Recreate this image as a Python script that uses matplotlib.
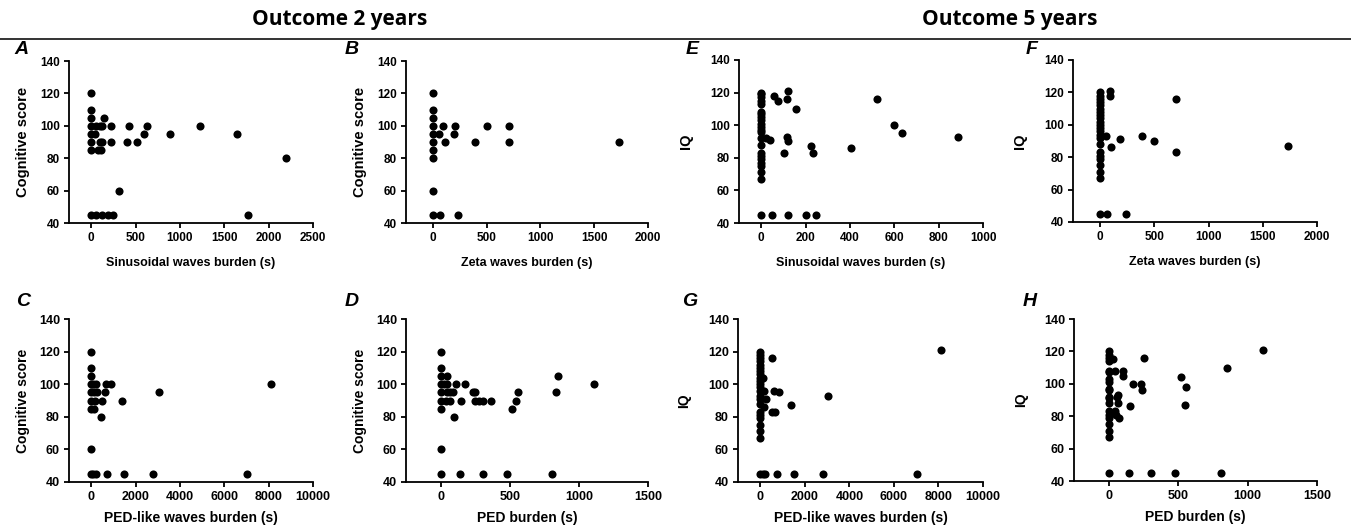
import matplotlib

matplotlib.use("Agg")

import matplotlib.pyplot as plt
from matplotlib.lines import Line2D

FIG_W, FIG_H = 1351, 528

# --- Outcome 2 years: cognitive score ---
a_sin_burden = [0, 0, 0, 0, 50, 95, 125, 226, 426, 630, 1225, 0, 40, 596, 886, 1644,
                0, 100, 120, 226, 400, 517, 150, 0, 75, 113, 2198, 309,
                0, 50, 120, 190, 245, 1768]
a_cog_score = [120, 110, 105, 100, 100, 100, 100, 100, 100, 100, 100, 95, 95, 95, 95, 95,
               90, 90, 90, 90, 90, 90, 105, 85, 85, 85, 80, 60,
               45, 45, 45, 45, 45, 45]

b_zeta_burden = [0, 0, 0, 0, 96, 210, 500, 708, 0, 56, 192, 0, 111, 390, 708, 1731,
                 0, 0, 0, 0, 62, 238]
b_cog_score = [120, 110, 105, 100, 100, 100, 100, 100, 95, 95, 95, 90, 90, 90, 90, 90,
               85, 80, 60, 45, 45, 45]

c_pedlike_burden = [0, 0, 0, 0, 100, 200, 650, 875, 8115, 0, 120, 240, 620, 3047,
                    0, 180, 500, 1372, 0, 120, 437, 0,
                    0, 90, 200, 709, 1493, 2805, 7029]
c_cog_score = [120, 110, 105, 100, 100, 100, 100, 100, 100, 95, 95, 95, 95, 95,
               90, 90, 90, 90, 85, 85, 80, 60,
               45, 45, 45, 45, 45, 45, 45]

d_ped_burden = [0, 0, 0, 43, 0, 24, 46, 108, 178, 1108,
                0, 43, 65, 87, 236, 248, 561, 835,
                0, 41, 65, 149, 248, 277, 308, 366, 544,
                0, 515, 852, 99, 0,
                0, 142, 306, 477, 808]
d_cog_score = [120, 110, 105, 105, 100, 100, 100, 100, 100, 100,
               95, 95, 95, 95, 95, 95, 95, 95,
               90, 90, 90, 90, 90, 90, 90, 90, 90,
               85, 85, 105, 80, 60,
               45, 45, 45, 45, 45]

# --- Outcome 5 years: IQ ---
e_sin_burden = [0, 0, 0, 0, 0, 0, 0, 0, 0, 0, 0, 0, 0, 0, 0, 0, 0, 0, 0, 0, 0, 0, 0,
                57, 78, 115, 121, 156, 22, 39, 115, 121, 103, 225, 234, 405,
                520, 598, 633, 889, 50, 120, 202, 246]
e_iq = [120, 119, 117, 115, 113, 108, 107, 105, 103, 101, 99, 97, 96, 92, 88, 83,
        81, 79, 77, 75, 71, 67, 45,
        118, 115, 116, 121, 110, 92, 91, 93, 90, 83, 87, 83, 86,
        116, 100, 95, 93, 45, 45, 45, 45]

f_zeta_burden = [0, 0, 0, 0, 0, 0, 0, 0, 0, 0, 0, 0, 0, 0, 0, 0, 0, 0, 0, 0, 0, 0, 0,
                 93, 93, 704, 50, 105, 186, 384, 496, 704, 1733, 59, 236]
f_iq = [120, 118, 116, 114, 112, 110, 108, 106, 104, 102, 100, 98, 96, 94, 92, 88,
        83, 81, 79, 75, 71, 67, 45,
        121, 118, 116, 93, 86, 91, 93, 90, 83, 87, 45, 45]

g_pedlike_burden = [0, 0, 0, 0, 0, 0, 0, 0, 0, 0, 0, 0, 0, 0, 0, 0, 0, 0, 0, 0, 0, 0, 0,
                    525, 135, 180, 600, 855, 255, 180, 510, 675, 1380, 3044, 8096,
                    100, 200, 735, 1500, 2834, 7031]
g_iq = [120, 118, 116, 114, 112, 110, 108, 106, 104, 102, 100, 98, 96, 93, 91, 88,
        83, 81, 79, 75, 71, 67, 45,
        116, 104, 96, 96, 95, 91, 86, 83, 83, 87, 93, 121,
        45, 45, 45, 45, 45, 45]

h_ped_burden = [0, 0, 0, 0, 0, 0, 0, 0, 0, 0, 0, 0, 0, 0, 0, 0, 0, 0, 0, 0,
                34, 48, 106, 106, 257, 178, 236, 240, 58, 70, 67, 156, 43, 53, 72,
                517, 560, 546, 851, 1110, 144, 305, 474, 810]
h_iq = [120, 118, 116, 114, 108, 107, 103, 101, 97, 96, 92, 91, 88, 83, 81, 79,
        75, 71, 67, 45,
        115, 108, 108, 105, 116, 100, 100, 96, 92, 93, 88, 86, 83, 81, 79,
        104, 98, 87, 110, 121, 45, 45, 45, 45]

Y_TICKS = [40, 60, 80, 100, 120, 140]

# (letter, x, y, xlabel, ylabel, xlim, xticks, box px: left, right, top, bottom)
PANELS = [
    ("A", a_sin_burden, a_cog_score, "Sinusoidal waves burden (s)", "Cognitive score",
     (-250, 2500), [0, 500, 1000, 1500, 2000, 2500], (69, 313, 61, 223)),
    ("B", b_zeta_burden, b_cog_score, "Zeta waves burden (s)", "Cognitive score",
     (-250, 2000), [0, 500, 1000, 1500, 2000], (406, 648, 61, 223)),
    ("E", e_sin_burden, e_iq, "Sinusoidal waves burden (s)", "IQ",
     (-100, 1000), [0, 200, 400, 600, 800, 1000], (739, 983, 60, 223)),
    ("F", f_zeta_burden, f_iq, "Zeta waves burden (s)", "IQ",
     (-250, 2000), [0, 500, 1000, 1500, 2000], (1073, 1317, 60, 222)),
    ("C", c_pedlike_burden, c_cog_score, "PED-like waves burden (s)", "Cognitive score",
     (-1000, 10000), [0, 2000, 4000, 6000, 8000, 10000], (69, 313, 319, 482)),
    ("D", d_ped_burden, d_cog_score, "PED burden (s)", "Cognitive score",
     (-250, 1500), [0, 500, 1000, 1500], (406, 648, 319, 482)),
    ("G", g_pedlike_burden, g_iq, "PED-like waves burden (s)", "IQ",
     (-1000, 10000), [0, 2000, 4000, 6000, 8000, 10000], (738, 983, 319, 482)),
    ("H", h_ped_burden, h_iq, "PED burden (s)", "IQ",
     (-250, 1500), [0, 500, 1000, 1500], (1074, 1317, 319, 481)),
]

LETTER_POS = {"A": (21, 50), "B": (352, 50), "E": (692, 50), "F": (1032, 50),
              "C": (23, 302), "D": (352, 302), "G": (690, 302), "H": (1030, 302)}


def px_box(left, right, top, bottom):
    return [left / FIG_W, 1 - bottom / FIG_H, (right - left) / FIG_W, (bottom - top) / FIG_H]


def draw_panel(fig, letter, xs, ys, xlabel, ylabel, xlim, xticks, box):
    top_row = box[2] < 100
    family = "Liberation Sans"
    ax = fig.add_axes(px_box(*box))
    ax.scatter(xs, ys, s=34, color="black", linewidths=0, clip_on=False, zorder=3)
    ax.set_xlim(*xlim)
    ax.set_ylim(40, 140)
    ax.set_xticks(xticks)
    ax.set_yticks(Y_TICKS)
    ax.spines[["top", "right"]].set_visible(False)
    for side in ("left", "bottom"):
        ax.spines[side].set_linewidth(1.3)
    ax.tick_params(direction="out", length=3.5, width=1.3, pad=3,
                   labelsize=8.5 if top_row else 9)
    for lbl in ax.get_xticklabels() + ax.get_yticklabels():
        lbl.set_fontweight("bold")
        lbl.set_family(family)
    ax.set_xlabel(xlabel, fontsize=9 if top_row else 10, fontweight="bold", family=family,
                  labelpad=9 if top_row else 6)
    ax.set_ylabel(ylabel, fontsize=10.5 if top_row else 10, fontweight="bold", family=family)
    label_x = {"Cognitive score": -0.16, "IQ": -0.19}[ylabel]
    ax.yaxis.set_label_coords(label_x, 0.5)
    lx, ly = LETTER_POS[letter]
    fig.text(lx / FIG_W, 1 - ly / FIG_H, letter, fontsize=14, fontweight="bold",
             fontstyle="italic", family="Liberation Sans", ha="center", va="center")
    return ax


def main() -> None:
    fig = plt.figure(figsize=(FIG_W / 100, FIG_H / 100), dpi=100)

    for letter, xs, ys, xlabel, ylabel, xlim, xticks, box in PANELS:
        draw_panel(fig, letter, xs, ys, xlabel, ylabel, xlim, xticks, box)

    fig.text(340 / FIG_W, 1 - 20 / FIG_H, "Outcome 2 years", fontsize=15, fontweight="bold",
             family="Open Sans", ha="center", va="center")
    fig.text(1010 / FIG_W, 1 - 20 / FIG_H, "Outcome 5 years", fontsize=15, fontweight="bold",
             family="Open Sans", ha="center", va="center")
    fig.add_artist(Line2D([0, 1], [1 - 39 / FIG_H] * 2, transform=fig.transFigure,
                          color="#333333", linewidth=1.4))

    fig.savefig("out.png", dpi=100)
    plt.close(fig)


if __name__ == "__main__":
    main()
